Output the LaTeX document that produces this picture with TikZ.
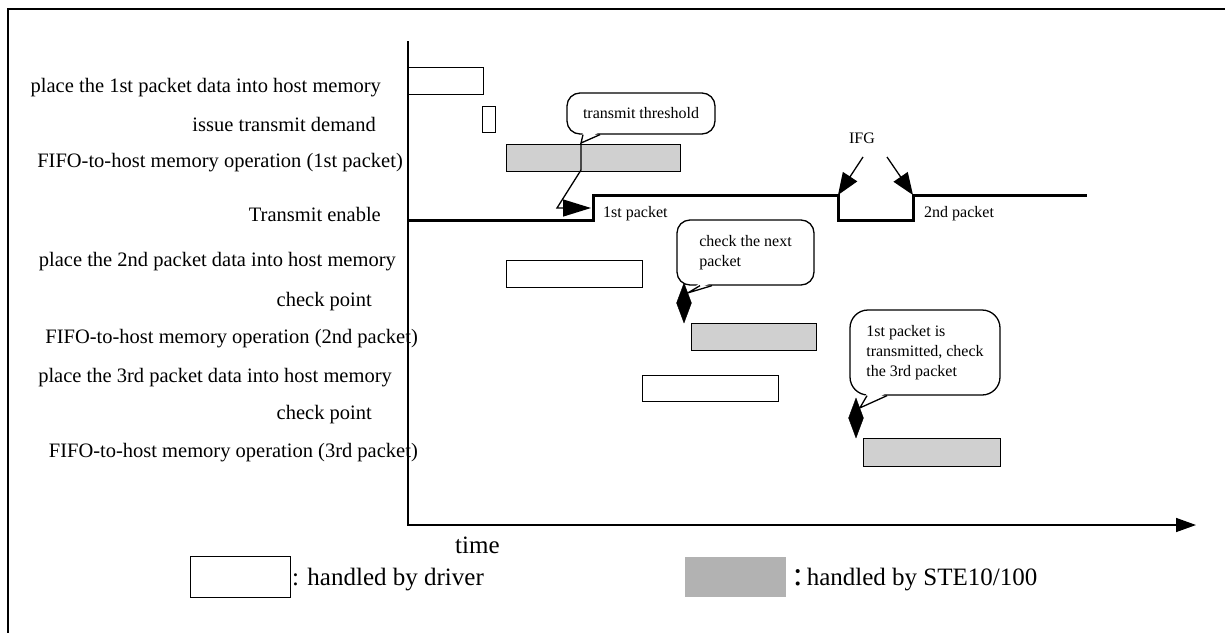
\documentclass[tikz,border=0pt]{standalone}
\usepackage{fontspec}
\setmainfont{Liberation Serif}
\usetikzlibrary{arrows.meta,shapes.geometric}
\definecolor{barfill}{HTML}{D0D0D0}
\definecolor{keyfill}{HTML}{B2B2B2}

\begin{document}
\begin{tikzpicture}[x=1pt,y=-1pt,
  drv/.style={draw,line width=1.2pt,fill=white,anchor=north west,inner sep=0pt},
  ste/.style={drv,fill=barfill},
  lbl/.style={anchor=east,inner sep=0pt,font=\fontsize{20.5}{24}\selectfont},
  note/.style={anchor=west,inner sep=0pt,font=\fontsize{16}{20}\selectfont},
  bubble/.style={draw,line width=1.3pt,rounded corners=13pt,fill=white,align=left,inner sep=0pt,font=\fontsize{16}{20}\selectfont},
  chk/.style={diamond,draw=black,fill=black,inner sep=0pt,minimum width=15pt,minimum height=40pt},
  sig/.style={line width=3pt},
  big/.style={-{Triangle[length=22pt,width=17pt]},line width=1.3pt},
  key/.style={anchor=base west,inner sep=0pt,font=\fontsize{25}{30}\selectfont}]
  \useasboundingbox (0,0) rectangle (1225,632);
  % frame and axes
  \draw[line width=1.5pt] (8,650) -- (8,9) -- (1240,9);
  \coordinate (org) at (408,525);
  \coordinate (tend) at (1196,525);
  \draw[line width=1.5pt,-{Triangle[length=20pt,width=14pt]}] (408,41) -- (org) -- (tend);

  % row labels
  \node[lbl] (l1) at (381,88) {place the 1st packet data into host memory};
  \node[lbl] (l2) at (376,124) {issue transmit demand};
  \node[lbl] (l3) at (403,163) {FIFO-to-host memory operation (1st packet)};
  \node[lbl] (l4) at (381,214) {Transmit enable};
  \node[lbl] (l5) at (396,262) {place the 2nd packet data into host memory};
  \node[lbl] (l6) at (372,302) {check point};
  \node[lbl] (l7) at (418,339) {FIFO-to-host memory operation (2nd packet)};
  \node[lbl] (l8) at (392,378) {place the 3rd packet data into host memory};
  \node[lbl] (l9) at (372,415) {check point};
  \node[lbl] (l10) at (418,453) {FIFO-to-host memory operation (3rd packet)};

  % bars
  \node[drv,minimum width=75pt,minimum height=27pt] (d1) at (408,67) {};
  \node[drv,minimum width=13pt,minimum height=26pt] (dem) at (482,106) {};
  \node[ste,minimum width=174pt,minimum height=27pt] (f1) at (506,144) {};
  \node[drv,minimum width=136pt,minimum height=27pt] (d2) at (506,260) {};
  \node[ste,minimum width=125pt,minimum height=27pt] (f2) at (691,323) {};
  \node[drv,minimum width=136pt,minimum height=26pt] (d3) at (642,375) {};
  \node[ste,minimum width=137pt,minimum height=28pt] (f3) at (863,438) {};

  % transmit enable
  \draw[sig] (408,220) -- (593,220) -- (593,195) -- (838,195) coordinate (fall)
    -- (838,220) -- (913,220) -- (913,195) coordinate (rise2) -- (1087,195);
  \node[note] (p1) at (603,214) {1st packet};
  \node[note] (p2) at (924,214) {2nd packet};
  \node[note,anchor=center] (ifg) at (862,138) {IFG};
  \coordinate (g1) at (863,157);
  \coordinate (g2) at (887,157);
  \draw[big] (g1) -- (fall);
  \draw[big] (g2) -- (rise2);

  % check points
  \node[chk] (cp1) at (684,303) {};
  \node[chk] (cp2) at (856,418) {};

  % callouts
  \node[bubble,minimum width=148pt,minimum height=41pt] (thr) at (641,113.5) {transmit threshold};
  \node[bubble,minimum width=137pt,minimum height=65pt] (nxt) at (745.5,252.5) {check the next\\packet};
  \node[bubble,rounded corners=18pt,minimum width=150pt,minimum height=85pt] (trd) at (925,352.5) {1st packet is\\transmitted, check\\the 3rd packet};

  \coordinate (tip1) at (581,143);
  \coordinate (rise1) at (591,208);
  \fill[white] ([xshift=-58pt,yshift=3pt]thr.south) -- (tip1) -- ([xshift=-41pt,yshift=3pt]thr.south) -- cycle;
  \draw[line width=1.3pt] ([xshift=-58pt]thr.south) -- (tip1) -- ([xshift=-41pt]thr.south);
  \draw[line width=1.3pt,-{Triangle[length=28pt,width=17pt]}] (tip1) -- (581,170) -- (557,208) -- (rise1);

  \fill[white] ([xshift=-45.5pt,yshift=3pt]nxt.south) -- (cp1.north east) -- ([xshift=-33.5pt,yshift=3pt]nxt.south) -- cycle;
  \draw[line width=1.3pt] ([xshift=-45.5pt]nxt.south) -- (cp1.north east) -- ([xshift=-33.5pt]nxt.south);

  \fill[white] ([xshift=-58pt,yshift=3pt]trd.south) -- (cp2.north east) -- ([xshift=-38pt,yshift=3pt]trd.south) -- cycle;
  \draw[line width=1.3pt] ([xshift=-58pt]trd.south) -- (cp2.north east) -- ([xshift=-38pt]trd.south);

  % legend
  \node[key] (tm) at (455,553) {time};
  \node[drv,minimum width=100pt,minimum height=41pt] (kd) at (190,556) {};
  \node[key] (kdt) at (292,585) {: handled by driver};
  \node[anchor=north west,fill=keyfill,inner sep=0pt,minimum width=101pt,minimum height=40pt] (ks) at (685,557) {};
  \node[key] (kst) at (793,585) {{\fontsize{34}{40}\selectfont :}\,handled by STE10/100};
\end{tikzpicture}
\end{document}
